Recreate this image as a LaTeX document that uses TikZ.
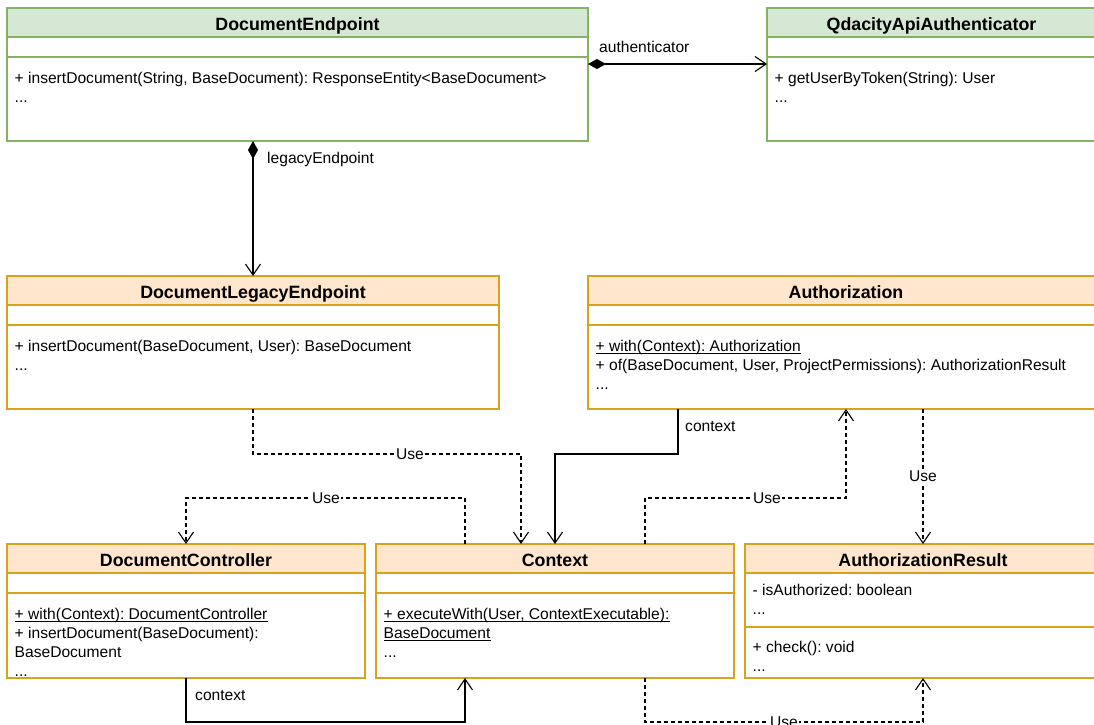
\documentclass[tikz,border=0pt]{standalone}
\usepackage{fontspec}
\setmainfont{Liberation Sans}
\usetikzlibrary{arrows.meta,fit}
\frenchspacing

\definecolor{greenfill}{HTML}{D5E8D4}
\definecolor{greenline}{HTML}{82B366}
\definecolor{orangefill}{HTML}{FFE6CC}
\definecolor{orangeline}{HTML}{D9A21C}

\tikzset{
  member/.style={font=\fontsize{15.6}{19}\selectfont, inner sep=0pt, anchor=base west},
  classname/.style={font=\fontsize{17.8}{21}\selectfont\bfseries, inner sep=0pt, anchor=base},
  frame/.style={inner sep=0pt, outer sep=0pt},
  rolename/.style={font=\fontsize{15.6}{19}\selectfont, inner sep=0pt, anchor=base west},
  uselabel/.style={font=\fontsize{15.6}{19}\selectfont, fill=white, inner sep=1pt},
  openhead/.style={-{Straight Barb[length=11pt,width=15pt]}},
  assoc/.style={line width=1.1pt, openhead},
  dependency/.style={line width=1.1pt, openhead, dash pattern=on 4pt off 3pt},
  composition/.style={line width=1.1pt, {Diamond[length=18pt,width=10pt]}-{Straight Barb[length=11pt,width=15pt]}},
}

% name, left, top, right, bottom, header bottom, separator, fill, line
\newcommand\umlclass[9]{%
  \node[frame, fit={(#2,#3) (#4,#5)}] (#1) {};
  \fill[#8] (#2,#3) rectangle (#4,#6);
  \draw[#9, line width=1.3pt] (#2,#6) -- (#4,#6) (#2,#7) -- (#4,#7);
  \draw[#9, line width=1.3pt] (#1.north west) rectangle (#1.south east);
}
% underlined (static) member: name, x, baseline, text
\newcommand\staticmember[4]{%
  \node[member] (#1) at (#2,#3) {#4};
  \draw[line width=0.9pt] ([yshift=-1.6pt]#1.base west) -- ([yshift=-1.6pt]#1.base east);
}

\begin{document}
\begin{tikzpicture}[x=1pt, y=-1pt]
\useasboundingbox (0,0) rectangle (1094,724);
\clip (0,0) rectangle (1094,724);

% ---- classes ----
\umlclass{de}{7}{8}{588}{141}{37}{57}{greenfill}{greenline}
\node[classname] (deT) at (297.5,30.7) {DocumentEndpoint};
\node[member] (deM1) at (14.5,83.5) {+ insertDocument(String, BaseDocument): ResponseEntity<BaseDocument>};
\node[member] (deM2) at (14.5,102.5) {...};

\umlclass{qa}{767}{8}{1096}{141}{37}{57}{greenfill}{greenline}
\node[classname] (qaT) at (931.5,30.7) {QdacityApiAuthenticator};
\node[member] (qaM1) at (774.5,83.5) {+ getUserByToken(String): User};
\node[member] (qaM2) at (774.5,102.5) {...};

\umlclass{dle}{7}{276}{499}{409}{305}{325}{orangefill}{orangeline}
\node[classname] (dleT) at (253,298.7) {DocumentLegacyEndpoint};
\node[member] (dleM1) at (14.5,351.5) {+ insertDocument(BaseDocument, User): BaseDocument};
\node[member] (dleM2) at (14.5,370.5) {...};

\umlclass{auth}{588}{276}{1104}{409}{305}{325}{orangefill}{orangeline}
\node[classname] (authT) at (846,298.7) {Authorization};
\staticmember{authM1}{595.5}{351.5}{+ with(Context): Authorization}
\node[member] (authM2) at (595.5,370.5) {+ of(BaseDocument, User, ProjectPermissions): AuthorizationResult};
\node[member] (authM3) at (595.5,389.5) {...};

\umlclass{dc}{7}{544}{365}{678}{573}{593}{orangefill}{orangeline}
\node[classname] (dcT) at (186,566.7) {DocumentController};
\staticmember{dcM1}{14.5}{619.5}{+ with(Context): DocumentController}
\node[member] (dcM2) at (14.5,638.5) {+ insertDocument(BaseDocument):};
\node[member] (dcM3) at (14.5,657.5) {BaseDocument};
\node[member] (dcM4) at (14.5,676.5) {...};

\umlclass{ctx}{376}{544}{734}{678}{573}{593}{orangefill}{orangeline}
\node[classname] (ctxT) at (555,566.7) {Context};
\staticmember{ctxM1}{383.5}{619.5}{+ executeWith(User, ContextExecutable):}
\staticmember{ctxM2}{383.5}{638.5}{BaseDocument}
\node[member] (ctxM3) at (383.5,657.5) {...};

\umlclass{ar}{745}{544}{1101}{678}{573}{627}{orangefill}{orangeline}
\node[classname] (arT) at (923,566.7) {AuthorizationResult};
\node[member] (arA1) at (752.5,595.5) {- isAuthorized: boolean};
\node[member] (arA2) at (752.5,614.5) {...};
\node[member] (arM1) at (752.5,652.5) {+ check(): void};
\node[member] (arM2) at (752.5,671.5) {...};

% ---- compositions ----
\draw[composition] (de.east |- 0,64) -- (qa.west |- 0,64);
\node[rolename] (rAuth) at (599,52) {authenticator};
\draw[composition] (de.south -| 253,0) -- (dle.north);
\node[rolename] (rLegacy) at (267,163) {legacyEndpoint};

% ---- associations ----
\draw[assoc] (auth.south -| 678,0) -- (678,454) -- (555,454) -- (ctx.north);
\node[rolename] (rCtx1) at (685,431) {context};
\draw[assoc] (dc.south) -- (186,722) -- (465,722) -- (ctx.south -| 465,0);
\node[rolename] (rCtx2) at (195,700) {context};

% ---- dependencies ----
\draw[dependency] (dle.south) -- (253,454) -- (521,454) -- (ctx.north -| 521,0);
\node[uselabel] (u1) at (410,454) {Use};
\draw[dependency] (ctx.north -| 465,0) -- (465,498) -- (186,498) -- (dc.north);
\node[uselabel] (u2) at (326,498) {Use};
\draw[dependency] (ctx.north -| 645,0) -- (645,498) -- (846,498) -- (auth.south);
\node[uselabel] (u3) at (767,498) {Use};
\draw[dependency] (auth.south -| 923,0) -- (ar.north);
\node[uselabel] (u4) at (923,476.5) {Use};
\draw[dependency] (ctx.south -| 645,0) -- (645,722) -- (923,722) -- (ar.south);
\node[uselabel] (u5) at (784,722) {Use};
\end{tikzpicture}
\end{document}
